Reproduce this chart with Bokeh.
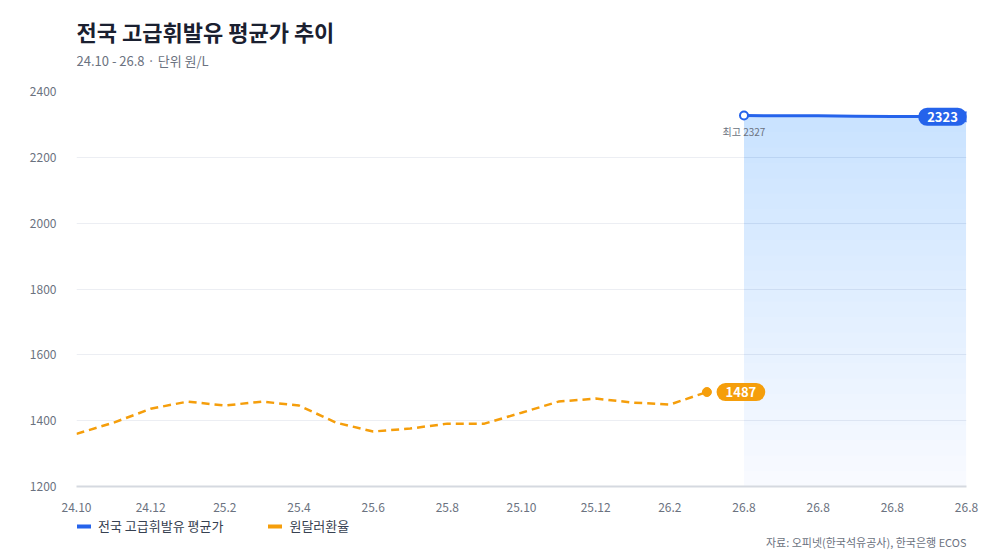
from bokeh.plotting import figure
from bokeh.layouts import column
from bokeh.models import Range1d, Label, Legend, LegendItem, FixedTicker
from bokeh.embed import file_html
from bokeh.resources import INLINE

# ---- data ----
months = ["24.10", "24.11", "24.12", "25.1", "25.2", "25.3", "25.4", "25.5", "25.6",
          "25.7", "25.8", "25.9", "25.10", "25.11", "25.12", "26.1", "26.2", "26.3",
          "26.8", "26.8", "26.8", "26.8", "26.8", "26.8", "26.8"]
exchange_rate = [1360, 1394, 1436, 1458, 1446, 1458, 1446, 1394, 1367, 1376, 1391,
                 1391, 1424, 1458, 1467, 1455, 1449, 1487]
gasoline = [2327, 2326, 2326, 2325, 2324, 2324, 2323]
gas_start = 18
y_ticks = [1200, 1400, 1600, 1800, 2000, 2200, 2400]

title_text = "전국 고급휘발유 평균가 추이"
subtitle_text = "24.10 - 26.8 · 단위 원/L"
source_text = "자료: 오피넷(한국석유공사), 한국은행 ECOS"
gas_name = "전국 고급휘발유 평균가"
fx_name = "원달러환율"

# ---- style ----
FONT = "Noto Sans CJK KR"
BLUE = "#2563eb"
ORANGE = "#f59e0b"
GRAY = "#6b7280"
W = 1000
NAN = float("nan")


def blank(h):
    f = figure(width=W, height=h, x_range=Range1d(0, 1), y_range=Range1d(0, 1),
               x_axis_location=None, y_axis_location=None, output_backend="svg",
               toolbar_location=None, min_border=0, title=None)
    f.outline_line_color = None
    f.xgrid.visible = False
    f.ygrid.visible = False
    f.background_fill_color = "white"
    f.border_fill_color = "white"
    return f


# ---- header ----
head = blank(81)
head.add_layout(Label(x=0, y=51, x_units="screen", y_units="screen", text=title_text,
                      text_baseline="middle", text_color="#1a2030", text_font=FONT,
                      text_font_size="22px", text_font_style="bold"))
head.add_layout(Label(x=0, y=21, x_units="screen", y_units="screen", text=subtitle_text,
                      text_baseline="middle", text_color=GRAY, text_font=FONT,
                      text_font_size="13px"))

# ---- main chart ----
ex_x = list(range(len(exchange_rate)))
gas_x = [gas_start + i for i in range(len(gasoline))]

p = figure(width=W, height=433, title=None,
           x_range=Range1d(0, len(months) - 1), y_range=Range1d(y_ticks[0], y_ticks[-1]),
           output_backend="svg", toolbar_location=None,
           min_border_left=76, min_border_right=34, min_border_top=10, min_border_bottom=28)
p.outline_line_color = None
p.background_fill_color = "white"
p.border_fill_color = "white"

p.xgrid.visible = False
p.ygrid.grid_line_color = "#eceef3"
p.ygrid.grid_line_width = 1

p.yaxis.ticker = FixedTicker(ticks=y_ticks)
p.yaxis.axis_line_color = None
p.yaxis.major_tick_line_color = None
p.yaxis.minor_tick_line_color = None
p.yaxis.major_label_standoff = 14
p.yaxis.major_label_text_font = FONT
p.yaxis.major_label_text_font_size = "12px"
p.yaxis.major_label_text_color = GRAY

xt = list(range(0, len(months), 2))
p.xaxis.ticker = FixedTicker(ticks=xt)
p.xaxis.major_label_overrides = {i: months[i] for i in xt}
p.xaxis.axis_line_color = "#d5d9e0"
p.xaxis.axis_line_width = 2
p.xaxis.major_tick_line_color = None
p.xaxis.minor_tick_line_color = None
p.xaxis.major_label_standoff = 10
p.xaxis.major_label_text_font = FONT
p.xaxis.major_label_text_font_size = "12px"
p.xaxis.major_label_text_color = GRAY

# gradient area under gasoline line (stacked translucent bands)
y0 = y_ticks[0]
top_min = min(gasoline)
n_bands = 24
p.varea(x=gas_x, y1=[y0] * len(gas_x), y2=gasoline, fill_color=BLUE, fill_alpha=0.025)
for k in range(n_bands):
    lo = y0 + (top_min - y0) * k / n_bands
    p.varea(x=gas_x, y1=[lo] * len(gas_x), y2=gasoline, fill_color=BLUE, fill_alpha=0.0068)

p.line(ex_x, exchange_rate, line_color=ORANGE, line_width=2.5, line_dash="8 5")
p.line(gas_x, gasoline, line_color=BLUE, line_width=3)

p.scatter([ex_x[-1]], [exchange_rate[-1]], size=9, fill_color=ORANGE, line_color=ORANGE)
p.scatter([gas_x[0]], [gasoline[0]], size=8, fill_color="white", line_color=BLUE, line_width=2)
p.scatter([gas_x[-1]], [gasoline[-1]], size=10, fill_color=BLUE, line_color=BLUE)

p.add_layout(Label(x=ex_x[-1], y=exchange_rate[-1], x_offset=34, text=str(exchange_rate[-1]),
                   text_align="center", text_baseline="middle", text_color="white",
                   text_font=FONT, text_font_size="13px", text_font_style="bold",
                   background_fill_color=ORANGE, padding=(9, 4), border_radius=11))
p.add_layout(Label(x=gas_x[-1], y=gasoline[-1], x_offset=-24, text=str(gasoline[-1]),
                   text_align="center", text_baseline="middle", text_color="white",
                   text_font=FONT, text_font_size="13px", text_font_style="bold",
                   background_fill_color=BLUE, padding=(9, 4), border_radius=11))
gmax = max(gasoline)
p.add_layout(Label(x=gas_x[gasoline.index(gmax)], y=gmax, y_offset=-16, text=f"최고 {gmax}",
                   text_align="center", text_baseline="middle", text_color=GRAY,
                   text_font=FONT, text_font_size="10px"))

# ---- footer: legend and source ----
foot = blank(46)
lg_gas = foot.line([NAN], [NAN], line_color=BLUE, line_width=4, line_cap="round")
lg_fx = foot.line([NAN], [NAN], line_color=ORANGE, line_width=4, line_cap="round")
legend = Legend(items=[LegendItem(label=gas_name, renderers=[lg_gas]),
                       LegendItem(label=fx_name, renderers=[lg_fx])],
                location=(1, 25), orientation="horizontal",
                glyph_width=14, glyph_height=14, label_height=14, label_standoff=7,
                spacing=45, padding=0, margin=0,
                label_text_font=FONT, label_text_font_size="13px", label_text_color="#374151",
                background_fill_alpha=0, border_line_color=None)
foot.add_layout(legend)
foot.add_layout(Label(x=890, y=19, x_units="screen", y_units="screen", text=source_text,
                      text_align="right", text_baseline="middle", text_color=GRAY,
                      text_font=FONT, text_font_size="11px"))

layout = column(head, p, foot, spacing=0)
open("out.html", "w").write(file_html(layout, INLINE))
